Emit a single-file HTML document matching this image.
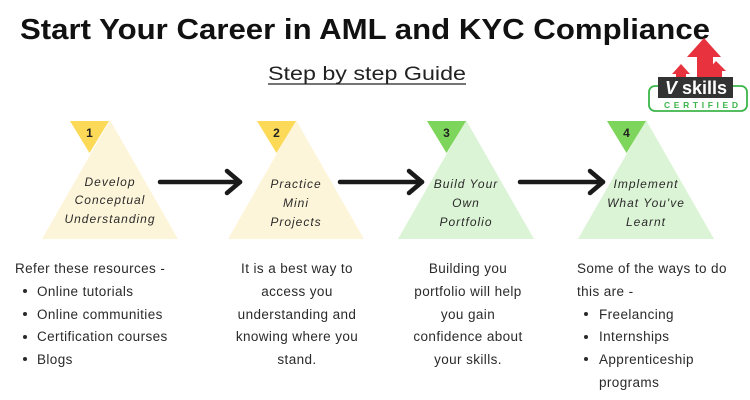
<!DOCTYPE html>
<html><head><meta charset="utf-8"><style>
html,body{margin:0;padding:0;background:#fff;}
svg{display:block;}
text{font-family:"Liberation Sans",sans-serif;}
.b{font-size:13.5px;fill:#2a2a2a;letter-spacing:0.4px;}
.t{font-size:12px;font-style:italic;fill:#2a2a2a;letter-spacing:1px;}
.n{font-size:12px;font-weight:bold;fill:#222;}
</style></head><body>
<svg width="750" height="400" viewBox="0 0 750 400">
<rect width="750" height="400" fill="#fff"/>
<text x="20" y="39" font-size="29" font-weight="bold" fill="#111" textLength="690" lengthAdjust="spacingAndGlyphs">Start Your Career in AML and KYC Compliance</text>
<text x="268" y="80" font-size="19" fill="#222" textLength="198" lengthAdjust="spacingAndGlyphs">Step by step Guide</text>
<line x1="268" y1="84" x2="466" y2="84" stroke="#222" stroke-width="1.3"/>

<!-- logo -->
<g>
<polygon points="704,38 721,57 713,57 713,80 697,80 697,57 687,57" fill="#e8333f"/>
<polygon points="681,64 690,74 686,74 686,80 676,80 676,74 672,74" fill="#e8333f"/>
<polygon points="716,61 726,71 722,71 722,80 711,80 711,71 707,71" fill="#e8333f"/>
<rect x="649" y="86" width="98" height="25" rx="6" fill="none" stroke="#3cb54a" stroke-width="1.8"/>
<rect x="658" y="77" width="75" height="21" fill="#333"/>
<text x="696" y="94" text-anchor="middle" font-size="18" font-weight="bold" fill="#fff"><tspan font-style="italic">V</tspan> skills</text>
<text x="664" y="108" font-size="8.5" font-weight="bold" fill="#3cb54a" textLength="74" lengthAdjust="spacing">CERTIFIED</text>
</g>

<!-- triangles -->
<polygon points="110,120 178,239 42,239" fill="#fdf5d9"/>
<polygon points="70,121 109,121 89.5,153" fill="#fcd957"/>
<text x="89.5" y="137" text-anchor="middle" class="n">1</text>
<text x="110" y="186" text-anchor="middle" class="t">Develop</text>
<text x="110" y="204" text-anchor="middle" class="t">Conceptual</text>
<text x="110" y="223" text-anchor="middle" class="t">Understanding</text>

<polygon points="296,120 364,239 228,239" fill="#fdf5d9"/>
<polygon points="257,121 296,121 276.5,153" fill="#fcd957"/>
<text x="276.5" y="137" text-anchor="middle" class="n">2</text>
<text x="296" y="188" text-anchor="middle" class="t">Practice</text>
<text x="296" y="207" text-anchor="middle" class="t">Mini</text>
<text x="296" y="226" text-anchor="middle" class="t">Projects</text>

<polygon points="466,120 534,239 398,239" fill="#dcf4d6"/>
<polygon points="427,121 466,121 446.5,153" fill="#7dd65b"/>
<text x="446.5" y="137" text-anchor="middle" class="n">3</text>
<text x="466" y="188" text-anchor="middle" class="t">Build Your</text>
<text x="466" y="207" text-anchor="middle" class="t">Own</text>
<text x="466" y="226" text-anchor="middle" class="t">Portfolio</text>

<polygon points="646,120 714,239 578,239" fill="#dcf4d6"/>
<polygon points="607,121 646,121 626.5,153" fill="#7dd65b"/>
<text x="626.5" y="137" text-anchor="middle" class="n">4</text>
<text x="646" y="188" text-anchor="middle" class="t">Implement</text>
<text x="646" y="207" text-anchor="middle" class="t">What You've</text>
<text x="646" y="226" text-anchor="middle" class="t">Learnt</text>

<!-- arrows -->
<g stroke="#1a1a1a" stroke-width="4.5" fill="none" stroke-linecap="round" stroke-linejoin="round">
<line x1="160" y1="182" x2="240" y2="182"/><polyline points="227,171 240,182 227,193"/>
<line x1="340" y1="182" x2="422" y2="182"/><polyline points="409,171 422,182 409,193"/>
<line x1="520" y1="182" x2="603" y2="182"/><polyline points="590,171 603,182 590,193"/>
</g>

<!-- text blocks -->
<text x="15" y="273" class="b">Refer these resources -</text>
<circle cx="25" cy="291" r="2" fill="#2a2a2a"/><text x="37" y="296" class="b">Online tutorials</text>
<circle cx="25" cy="314" r="2" fill="#2a2a2a"/><text x="37" y="319" class="b">Online communities</text>
<circle cx="25" cy="337" r="2" fill="#2a2a2a"/><text x="37" y="341" class="b">Certification courses</text>
<circle cx="25" cy="359" r="2" fill="#2a2a2a"/><text x="37" y="364" class="b">Blogs</text>

<g text-anchor="middle">
<text x="297" y="273" class="b">It is a best way to</text>
<text x="297" y="296" class="b">access you</text>
<text x="297" y="319" class="b">understanding and</text>
<text x="297" y="341" class="b">knowing where you</text>
<text x="297" y="364" class="b">stand.</text>

<text x="468" y="273" class="b">Building you</text>
<text x="468" y="296" class="b">portfolio will help</text>
<text x="468" y="319" class="b">you gain</text>
<text x="468" y="341" class="b">confidence about</text>
<text x="468" y="364" class="b">your skills.</text>
</g>

<text x="577" y="273" class="b">Some of the ways to do</text>
<text x="577" y="296" class="b">this are -</text>
<circle cx="586" cy="314" r="2" fill="#2a2a2a"/><text x="599" y="319" class="b">Freelancing</text>
<circle cx="586" cy="337" r="2" fill="#2a2a2a"/><text x="599" y="341" class="b">Internships</text>
<circle cx="586" cy="359" r="2" fill="#2a2a2a"/><text x="599" y="364" class="b">Apprenticeship</text>
<text x="599" y="387" class="b">programs</text>
</svg>
</body></html>
